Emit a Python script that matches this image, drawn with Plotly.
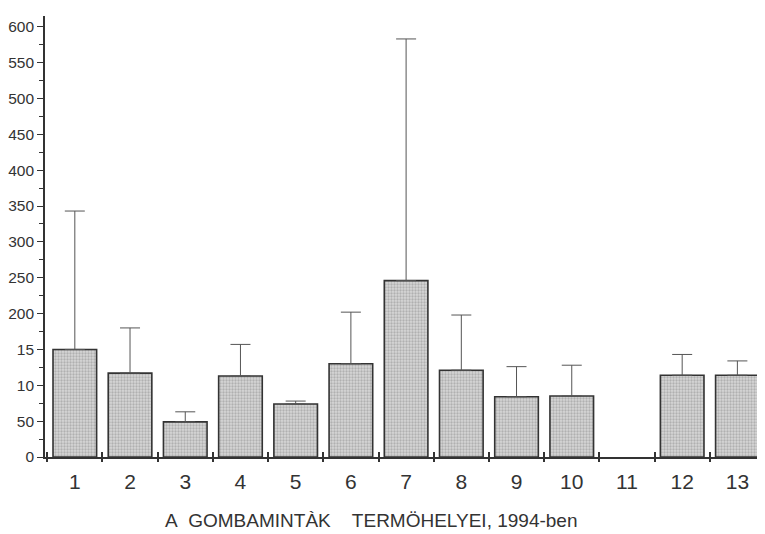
import plotly.graph_objects as go

categories = ["1", "2", "3", "4", "5", "6", "7", "8", "9", "10", "11", "12", "13"]
means = [150, 117, 49, 113, 74, 130, 246, 121, 84, 85, None, 114, 114]
upper = [343, 180, 63, 157, 78, 202, 583, 198, 126, 128, None, 143, 134]
err_plus = [(u - m) if (u is not None and m is not None) else None for u, m in zip(upper, means)]
err_minus = [0 if m is not None else None for m in means]

ytick_vals = [0, 50, 100, 150, 200, 250, 300, 350, 400, 450, 500, 550, 600]
ytick_text = ["0", "50", "10", "15", "200", "250", "300", "350", "400", "450", "500", "550", "600"]
x_title = "A\u00a0\u00a0GOMBAMINTÀK\u00a0\u00a0\u00a0\u00a0TERMÖHELYEI, 1994-ben"

FONT = "Liberation Sans, Arial, sans-serif"

fig = go.Figure()
fig.add_trace(go.Bar(
    x=categories, y=means,
    marker=dict(color="#d6d6d6", line=dict(color="#333333", width=1.6),
                pattern=dict(shape=".", fgcolor="#8a8a8a", size=3, solidity=0.45)),
    error_y=dict(type="data", symmetric=False, array=err_plus, arrayminus=err_minus,
                 color="#555555", thickness=1, width=10),
    width=0.79,
))
# overlay axis for inside-pointing x ticks
fig.add_trace(go.Scatter(x=categories, y=[None]*13, xaxis="x2", showlegend=False, hoverinfo="skip"))

fig.update_layout(
    width=757, height=526,
    margin=dict(l=37, r=0, t=8, b=77, autoexpand=False),
    paper_bgcolor="white", plot_bgcolor="white",
    showlegend=False,
    bargap=0.21,
    font=dict(family=FONT, color="#333333"),
    xaxis=dict(
        type="category", range=[-0.54, 12.5], automargin=False,
        showline=True, linecolor="#333333", linewidth=1.6,
        ticks="outside", ticklen=3, tickwidth=1.6, tickcolor="#333333",
        tickson="boundaries",
        tickfont=dict(size=21, color="#333333"),
        ticklabelstandoff=5,
        showgrid=False, zeroline=False,
    ),
    xaxis2=dict(
        type="category", range=[-0.54, 12.5], overlaying="x", matches="x", automargin=False,
        ticks="inside", ticklen=5, tickwidth=1.6, tickcolor="#333333",
        tickson="boundaries", showticklabels=False, showline=False,
        showgrid=False, zeroline=False, side="bottom",
    ),
    yaxis=dict(
        range=[0, 615], automargin=False,
        showline=True, linecolor="#333333", linewidth=1.6,
        tickmode="array", tickvals=ytick_vals, ticktext=ytick_text,
        ticks="outside", ticklen=6, tickwidth=1.4, tickcolor="#333333",
        tickfont=dict(size=15.5, color="#333333"),
        ticklabelstandoff=0,
        minor=dict(tickmode="linear", tick0=0, dtick=25, ticks="outside", ticklen=4,
                   tickwidth=1.2, tickcolor="#333333", showgrid=False),
        showgrid=False, zeroline=False,
    ),
    annotations=[dict(
        text=x_title, xref="paper", yref="paper", x=0.453, y=-0.145,
        xanchor="center", yanchor="middle", showarrow=False,
        font=dict(size=19, color="#333333", family=FONT),
    )],
)

fig.write_html("out.html")
